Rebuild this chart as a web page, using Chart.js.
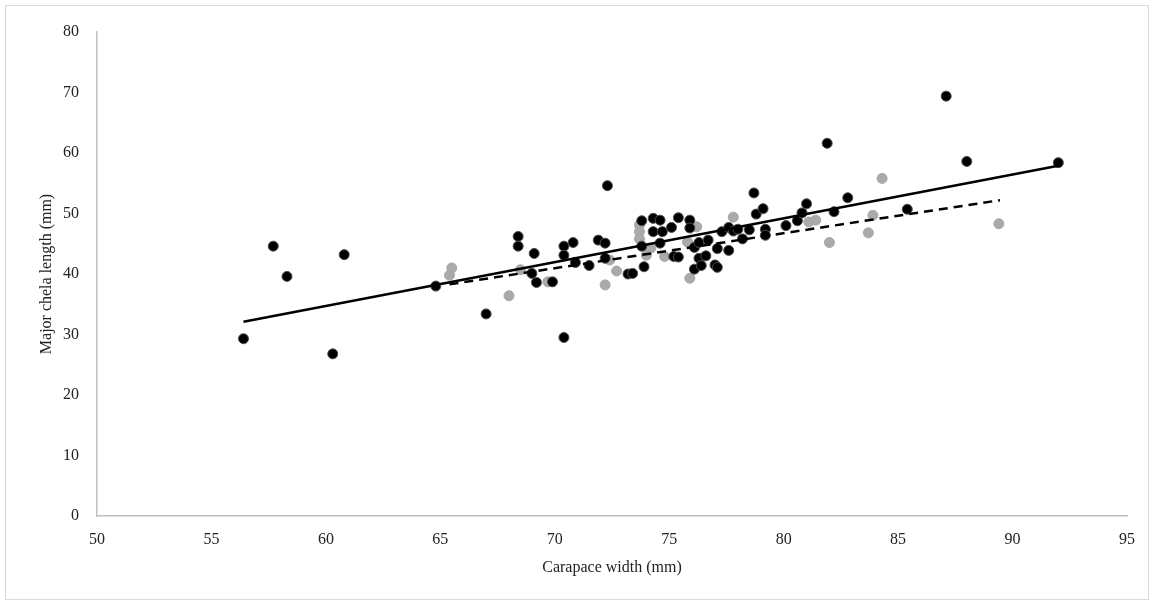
<!DOCTYPE html>
<html>
<head>
<meta charset="utf-8">
<script src="https://cdn.jsdelivr.net/npm/chart.js@4/dist/chart.umd.min.js"></script>
<style>
  html, body { margin: 0; padding: 0; background: #fff; }
  #wrap { position: relative; width: 1155px; height: 605px; }
  #frame { position: absolute; left: 5px; top: 5px; width: 1142px; height: 593px; border: 1px solid #d9d9d9; pointer-events: none; }
  canvas { position: absolute; left: 0; top: 0; }
</style>
</head>
<body>
<div id="wrap">
  <canvas id="chart" width="1155" height="605"></canvas>
  <div id="frame"></div>
</div>
<script>
// ===== data =====
const blackX = [56.4, 57.7, 58.3, 60.3, 60.8, 64.8, 67.0, 68.4, 68.4, 69.1, 69.0, 69.2, 69.9, 70.4, 70.4, 70.8, 70.4, 70.9, 71.5, 71.9,
  72.2, 72.3, 72.2, 73.2, 73.4, 73.8, 73.8, 73.9, 74.3, 74.3, 74.6, 74.7, 74.6, 75.1, 75.2, 75.4, 75.4, 75.9, 75.9, 76.1,
  76.3, 76.1, 76.3, 76.4, 76.6, 76.7, 77.0, 77.1, 77.1, 77.3, 77.6, 77.6, 77.8, 78.0, 78.2, 78.5, 78.7, 78.8, 79.1, 79.2,
  79.2, 80.1, 80.6, 80.8, 81.0, 81.9, 82.2, 82.8, 85.4, 87.1, 88.0, 92.0];
const blackY = [29.3, 44.6, 39.6, 26.8, 43.2, 38.0, 33.4, 46.2, 44.6, 43.4, 40.1, 38.6, 38.7, 29.5, 44.6, 45.2, 43.1, 41.9, 41.4, 45.6,
  45.1, 54.6, 42.6, 40.0, 40.1, 48.8, 44.6, 41.2, 49.2, 47.0, 48.9, 47.0, 45.1, 47.7, 42.9, 42.8, 49.3, 48.9, 47.6, 44.4,
  45.2, 40.8, 42.6, 41.4, 43.0, 45.6, 41.5, 41.1, 44.2, 47.0, 43.9, 47.7, 47.1, 47.4, 45.8, 47.3, 53.4, 49.9, 50.8, 47.4,
  46.4, 48.0, 48.8, 50.1, 51.6, 61.6, 50.3, 52.6, 50.7, 69.4, 58.6, 58.4];

const greyX = [65.5, 65.4, 68.0, 68.5, 69.7, 72.2, 72.4, 72.7, 73.7, 73.7, 73.7, 74.0, 74.2, 74.8, 75.8, 75.9, 76.2, 77.8,
  81.1, 81.4, 82.0, 83.7, 83.9, 84.3, 89.4];
const greyY = [41.0, 39.8, 36.4, 40.7, 38.7, 38.2, 42.3, 40.5, 48.1, 47.0, 45.8, 43.1, 44.3, 42.9, 45.3, 39.3, 47.8, 49.4,
  48.6, 48.9, 45.2, 46.8, 49.7, 55.8, 48.3];

// trend lines (start / end)
const solidX = [56.4, 92.0];
const solidY = [32.1, 57.9];
const dashX = [65.4, 89.45];
const dashY = [38.3, 52.2];

const xTicks = [50, 55, 60, 65, 70, 75, 80, 85, 90, 95];
const yTicks = [0, 10, 20, 30, 40, 50, 60, 70, 80];

const toPts = (xs, ys) => xs.map((x, i) => ({ x: x, y: ys[i] }));

const FONT = "'Liberation Serif', 'Times New Roman', serif";

new Chart(document.getElementById("chart"), {
  type: "scatter",
  data: {
    datasets: [
      {
        data: toPts(solidX, solidY),
        showLine: true,
        borderColor: "#000",
        borderWidth: 2.5,
        pointRadius: 0,
        order: 1
      },
      {
        data: toPts(dashX, dashY),
        showLine: true,
        borderColor: "#000",
        borderWidth: 2.5,
        borderDash: [9, 6],
        pointRadius: 0,
        order: 2
      },
      {
        data: toPts(blackX, blackY),
        backgroundColor: "#000",
        borderColor: "#4d4d4d",
        borderWidth: 1,
        pointRadius: 5,
        order: 3
      },
      {
        data: toPts(greyX, greyY),
        backgroundColor: "#aaaaaa",
        borderColor: "#a6a6a6",
        borderWidth: 1,
        pointRadius: 5,
        order: 4
      }
    ]
  },
  options: {
    responsive: false,
    animation: false,
    layout: { padding: { left: 0, right: 28, top: 32, bottom: 0 } },
    plugins: { legend: { display: false }, tooltip: { enabled: false } },
    scales: {
      x: {
        type: "linear",
        min: 50,
        max: 95,
        afterBuildTicks: s => { s.ticks = xTicks.map(v => ({ value: v })); },
        afterFit: s => { s.height = 89; },
        grid: { display: false },
        border: { display: true, color: "#bfbfbf", width: 1.5 },
        ticks: { color: "#222", font: { family: FONT, size: 16 }, padding: 6 },
        title: {
          display: true,
          text: "Carapace width (mm)",
          color: "#222",
          font: { family: FONT, size: 16 },
          padding: { top: 4, bottom: 28 }
        }
      },
      y: {
        type: "linear",
        min: 0,
        max: 80,
        afterBuildTicks: s => { s.ticks = yTicks.map(v => ({ value: v })); },
        afterFit: s => { s.width = 97; },
        grid: { display: false },
        border: { display: true, color: "#bfbfbf", width: 1.5 },
        ticks: { color: "#222", font: { family: FONT, size: 16 }, padding: 10 },
        title: {
          display: true,
          text: "Major chela length (mm)",
          color: "#222",
          font: { family: FONT, size: 16 },
          padding: { bottom: 0, top: 37 }
        }
      }
    }
  }
});
</script>
</body>
</html>
